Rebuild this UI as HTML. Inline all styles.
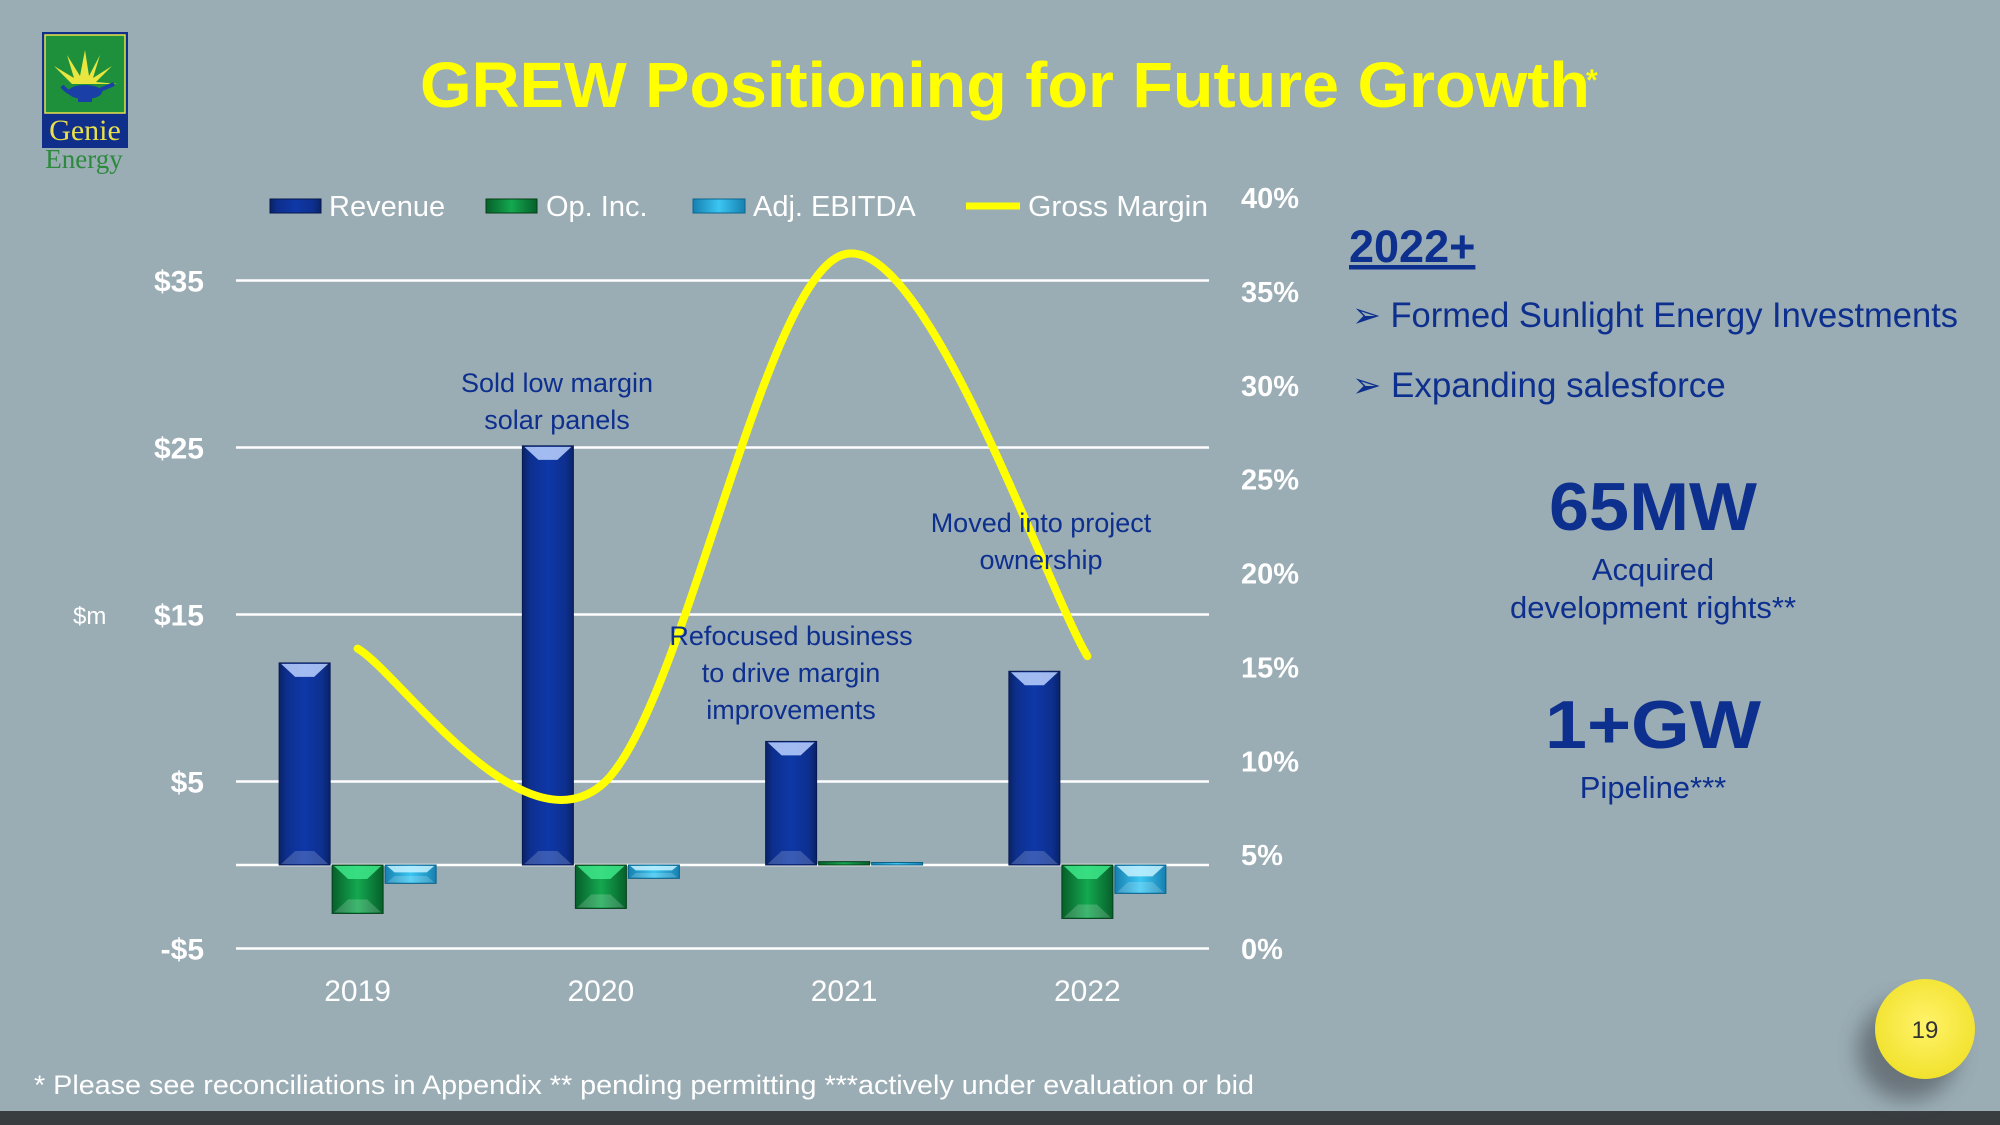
<!DOCTYPE html>
<html><head><meta charset="utf-8"><style>
html,body{margin:0;padding:0;background:#9aacb4;}
svg{display:block;}
text{font-family:"Liberation Sans",sans-serif;}
</style></head><body>
<svg id="chart" width="2000" height="1125" viewBox="0 0 2000 1125" xmlns="http://www.w3.org/2000/svg">
<defs>
<linearGradient id="gRev" x1="0" x2="1" y1="0" y2="0"><stop offset="0" stop-color="#0a2266"/><stop offset="0.15" stop-color="#0d2f8e"/><stop offset="0.5" stop-color="#0e38a8"/><stop offset="0.85" stop-color="#0d2f8e"/><stop offset="1" stop-color="#0a2266"/></linearGradient>
<linearGradient id="gOp" x1="0" x2="1" y1="0" y2="0"><stop offset="0" stop-color="#06602a"/><stop offset="0.5" stop-color="#14a850"/><stop offset="1" stop-color="#06602a"/></linearGradient>
<linearGradient id="gEb" x1="0" x2="1" y1="0" y2="0"><stop offset="0" stop-color="#1680b0"/><stop offset="0.5" stop-color="#3cc6f2"/><stop offset="1" stop-color="#1680b0"/></linearGradient>
<radialGradient id="gCirc" cx="0.5" cy="0.45" r="0.55"><stop offset="0" stop-color="#fff36a"/><stop offset="1" stop-color="#f2e22e"/></radialGradient>
<filter id="shadow" x="-50%" y="-50%" width="200%" height="200%"><feGaussianBlur stdDeviation="10"/></filter>
</defs>
<rect x="0" y="0" width="2000" height="1125" fill="#9aacb4"/>
<rect x="0" y="1111" width="2000" height="14" fill="#3a3d40"/>

<g>
<rect x="42" y="32" width="86" height="116" fill="#0f2f8a"/>
<rect x="45" y="35" width="80" height="78" fill="#1e8f3a" stroke="#e8e04a" stroke-width="1.5"/>
<polygon points="85,50 89,76 100,55 93,78 112,66 96,82 118,84 72,84 54,66 74,78 67,55 80,76" fill="#e9e640"/>
<ellipse cx="85" cy="92" rx="17" ry="7" fill="#1a3fa6"/>
<path d="M62 86 Q70 96 78 92 M100 90 L114 84" stroke="#1a3fa6" stroke-width="4" fill="none"/>
<rect x="78" y="97" width="14" height="5" fill="#1a3fa6"/>
<text x="85" y="140" text-anchor="middle" font-size="30" fill="#e8df4a" style="font-family:'Liberation Serif',serif">Genie</text>
<text x="84" y="168" text-anchor="middle" font-size="27" fill="#2c8a3c" style="font-family:'Liberation Serif',serif">Energy</text>
</g>

<text x="1005" y="107" text-anchor="middle" font-size="64" font-weight="bold" fill="#ffff00" textLength="1170" lengthAdjust="spacingAndGlyphs">GREW Positioning for Future Growth</text>
<text x="1586" y="90" font-size="30" font-weight="bold" fill="#ffff00">*</text>

<g id="grid"></g>
<g id="bars"></g>
<g id="line"></g>
<g id="axes"></g>

<text x="73" y="624" font-size="24" fill="#ffffff">$m</text>

<g>
<g><rect x="270" y="199" width="51" height="14" fill="url(#gRev)" stroke="#08184c"/><text x="329" y="216" font-size="29" fill="#ffffff">Revenue</text></g>
<g><rect x="486" y="199" width="51" height="14" fill="url(#gOp)" stroke="#054018"/><text x="546" y="216" font-size="29" fill="#ffffff">Op. Inc.</text></g>
<g><rect x="693" y="199" width="52" height="14" fill="url(#gEb)" stroke="#0e6690"/><text x="753" y="216" font-size="29" fill="#ffffff">Adj. EBITDA</text></g>
<g><line x1="966" y1="206" x2="1020" y2="206" stroke="#ffff00" stroke-width="7"/><text x="1028" y="216" font-size="29" fill="#ffffff" textLength="180" lengthAdjust="spacingAndGlyphs">Gross Margin</text></g>
</g>

<g fill="#0d2f8e" font-size="27" text-anchor="middle">
<text x="557" y="392">Sold low margin</text>
<text x="557" y="429">solar panels</text>
<text x="1041" y="532">Moved into project</text>
<text x="1041" y="569">ownership</text>
<text x="791" y="645">Refocused business</text>
<text x="791" y="682">to drive margin</text>
<text x="791" y="719">improvements</text>
</g>

<g fill="#0d2f8e">
<text x="1349" y="262" font-size="45" font-weight="bold" text-decoration="underline">2022+</text>
<text x="1352" y="327" font-size="35" textLength="606" lengthAdjust="spacingAndGlyphs">➢ Formed Sunlight Energy Investments</text>
<text x="1352" y="397" font-size="35">➢ Expanding salesforce</text>
<text x="1653" y="530" font-size="68" font-weight="bold" text-anchor="middle" textLength="208" lengthAdjust="spacingAndGlyphs">65MW</text>
<text x="1653" y="580" font-size="31" text-anchor="middle">Acquired</text>
<text x="1653" y="618" font-size="31" text-anchor="middle">development rights**</text>
<text x="1653" y="748" font-size="68" font-weight="bold" text-anchor="middle" textLength="216" lengthAdjust="spacingAndGlyphs">1+GW</text>
<text x="1653" y="798" font-size="31" text-anchor="middle">Pipeline***</text>
</g>

<text x="34" y="1094" font-size="27" fill="#ffffff" textLength="1220" lengthAdjust="spacingAndGlyphs">* Please see reconciliations in Appendix  ** pending permitting  ***actively under evaluation or bid</text>

<g>
<circle cx="1908" cy="1050" r="50" fill="#4a5055" opacity="0.6" filter="url(#shadow)"/>
<circle cx="1925" cy="1029" r="50" fill="url(#gCirc)"/>
<text x="1925" y="1038" font-size="24" text-anchor="middle" fill="#333333">19</text>
</g>
</svg>
<script>
const categories = ["2019","2020","2021","2022"];
const revenue = [12.1, 25.1, 7.4, 11.6];
const opInc = [-2.9, -2.6, 0.2, -3.2];
const adjEbitda = [-1.1, -0.8, 0.15, -1.7];
const grossMargin = [16, 8.7, 37, 15.6];
const leftTicks = [-5, 5, 15, 25, 35];
const leftTickLabels = ["-$5","$5","$15","$25","$35"];
const rightTicks = [0,5,10,15,20,25,30,35,40];
const rightTickLabels = ["0%","5%","10%","15%","20%","25%","30%","35%","40%"];

const NS = "http://www.w3.org/2000/svg";
const X0 = 236, X1 = 1209;
const band = (X1 - X0) / categories.length;
function yL(v){ return 865 - v * 16.7; }
function yR(p){ return 949 - p * (949 - 198) / 40; }
function xC(i){ return X0 + band * (i + 0.5); }
function mk(tag, attrs, parent){ const e = document.createElementNS(NS, tag); for (const k in attrs) e.setAttribute(k, attrs[k]); parent.appendChild(e); return e; }

const grid = document.getElementById('grid');
const axes = document.getElementById('axes');
[-5,0,5,15,25,35].forEach(v => {
  const l = mk('line', {x1:X0, x2:X1, y1:yL(v), y2:yL(v), stroke:'#ffffff', 'stroke-width':2.5}, grid);
  
  
});
leftTicks.forEach((v,i) => {
  const t = mk('text', {x:204, y:yL(v)+11, 'text-anchor':'end', 'font-size':30, 'font-weight':'bold', fill:'#ffffff'}, axes);
  t.textContent = leftTickLabels[i];
  
  
});
rightTicks.forEach((v,i) => {
  const t = mk('text', {x:1241, y:yR(v)+10, 'font-size':29, 'font-weight':'bold', fill:'#ffffff'}, axes);
  t.textContent = rightTickLabels[i];
  
  
});
categories.forEach((c,i) => {
  const t = mk('text', {x:xC(i), y:1001, 'text-anchor':'middle', 'font-size':30, fill:'#ffffff'}, axes);
  t.textContent = c;
  
  
});

const bars = document.getElementById('bars');
const bw = 53;
const series = [
  {vals:revenue, fill:'url(#gRev)', stroke:'#071a55', hi:'#bcd2ff', name:'bar-revenue'},
  {vals:opInc, fill:'url(#gOp)', stroke:'#04401a', hi:'#3ee88a', name:'bar-op-inc'},
  {vals:adjEbitda, fill:'url(#gEb)', stroke:'#0d6288', hi:'#c6f2ff', name:'bar-adj-ebitda'}
];
series.forEach((s,si) => {
  s.vals.forEach((v,i) => {
    const x = xC(i) - 1.5*bw + si*bw + 1;
    const y0 = yL(0), y1 = yL(v);
    const top = Math.min(y0,y1), h = Math.max(1.5, Math.abs(y1-y0));
    const g = mk('g', {}, bars);
    
    
    mk('rect', {x:x, y:top, width:bw-2, height:h, fill:s.fill, stroke:s.stroke, 'stroke-width':1}, g);
    if (h > 10) {
      const d = Math.min(14, h/2.5);
      mk('polygon', {points:`${x+2},${top+1} ${x+bw-4},${top+1} ${x+bw-4-d},${top+d} ${x+2+d},${top+d}`, fill:s.hi, opacity:0.85}, g);
      mk('polygon', {points:`${x+2},${top+h-1} ${x+bw-4},${top+h-1} ${x+bw-4-d},${top+h-d} ${x+2+d},${top+h-d}`, fill:'#ffffff', opacity:0.18}, g);
    }
  });
});

const pts = grossMargin.map((p,i) => [xC(i), yR(p)]);
let d = `M${pts[0][0]},${pts[0][1]}`;
for (let i=0;i<pts.length-1;i++){
  const p0 = pts[i-1] || pts[i], p1 = pts[i], p2 = pts[i+1], p3 = pts[i+2] || pts[i+1];
  const c1 = [p1[0] + (p2[0]-p0[0])/6, p1[1] + (p2[1]-p0[1])/6];
  const c2 = [p2[0] - (p3[0]-p1[0])/6, p2[1] - (p3[1]-p1[1])/6];
  d += ` C${c1[0]},${c1[1]} ${c2[0]},${c2[1]} ${p2[0]},${p2[1]}`;
}
const path = mk('path', {d:d, fill:'none', stroke:'#ffff00', 'stroke-width':8, 'stroke-linecap':'round'}, document.getElementById('line'));


</script>
</body></html>
